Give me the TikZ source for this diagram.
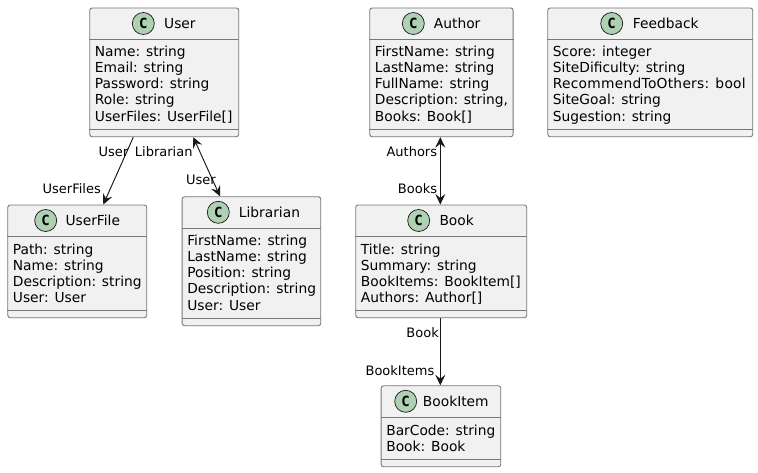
\documentclass[tikz,border=0pt]{standalone}
\usepackage{fontspec}
\setmainfont{DejaVu Sans}
\newfontfamily\glyphfont{DejaVu Sans Mono}[BoldFont={DejaVu Sans Mono Bold}]
\usetikzlibrary{arrows.meta,calc}
\definecolor{boxfill}{HTML}{F1F1F1}
\definecolor{boxline}{HTML}{777777}
\definecolor{spot}{HTML}{ADD1B2}
\definecolor{ink}{HTML}{181818}
\tikzset{
  x=1pt,y=-1pt,
  classbox/.style={draw=boxline,fill=boxfill,line width=0.9pt,rounded corners=2.5pt,anchor=north west,inner sep=0pt},
  divider/.style={draw=boxline,line width=0.9pt},
  spotc/.style={circle,draw=ink,fill=spot,line width=0.7pt,minimum size=22pt,inner sep=0pt,font=\glyphfont\bfseries\fontsize{14}{14}\selectfont,text=black},
  titletext/.style={anchor=base west,inner sep=0pt,font=\fontsize{13.8}{14}\selectfont,text=black},
  membertext/.style={anchor=north west,inner sep=0pt,align=left,font=\fontsize{13.8}{16.2}\selectfont,text=black},
  rolelabel/.style={anchor=base east,inner sep=0pt,font=\fontsize{13}{13}\selectfont,text=black},
  assoc/.style={draw=ink,line width=0.95pt,-{Stealth[length=10.5pt,width=10pt,inset=4pt]}},
  assocboth/.style={draw=ink,line width=0.95pt,{Stealth[length=10.5pt,width=10pt,inset=4pt]}-{Stealth[length=10.5pt,width=10pt,inset=4pt]}},
}
% #1 name, #2 x1, #3 y1, #4 x2, #5 y2
\newcommand{\umlbox}[5]{%
  \pgfmathsetmacro{\boxw}{#4-#2}\pgfmathsetmacro{\boxh}{#5-#3}%
  \node[classbox,minimum width=\boxw pt,minimum height=\boxh pt] (#1) at (#2,#3) {};
  \draw[divider] ($(#1.north west)+(0,32)$) -- ($(#1.north east)+(0,32)$);
  \draw[divider] ($(#1.south west)+(0,-8)$) -- ($(#1.south east)+(0,-8)$);
}
% #1 name, #2 spot x, #3 title x, #4 title
\newcommand{\umlhead}[4]{%
  \node[spotc] (#1spot) at ($(#1.north west)+(0,16)-(#1.north west |- 0,0)+(#2,0)$) {C};
  \node[titletext] (#1title) at ($(#1.north west)+(0,20.7)-(#1.north west |- 0,0)+(#3,0)$) {#4};
}
% #1 name, #2 first baseline below the top, #3 lines
\newcommand{\umlmembers}[3]{%
  \pgfmathsetmacro{\memberdrop}{#2-11}%
  \node[membertext] (#1members) at ($(#1.north west)+(5.4,\memberdrop)$) {\rule{0pt}{11pt}#3};
}
\begin{document}
\begin{tikzpicture}
\useasboundingbox (0,0) rectangle (758,472);
\fill[white] (0,0) rectangle (758,472);
\umlbox{User}{89.3}{7.5}{238.3}{136.3}
\umlhead{User}{143.3}{164}{User}
\umlmembers{User}{48.5}{Name: string\\Email: string\\Password: string\\Role: string\\UserFiles: UserFile[]}
\umlbox{UserFile}{7.3}{204.5}{146.3}{317.3}
\umlhead{UserFile}{45.7}{65.3}{UserFile}
\umlmembers{UserFile}{49.5}{Path: string\\Name: string\\Description: string\\User: User}
\umlbox{Librarian}{181.7}{196.3}{320.3}{325.3}
\umlhead{Librarian}{218.3}{238.7}{Librarian}
\umlmembers{Librarian}{48.7}{FirstName: string\\LastName: string\\Position: string\\Description: string\\User: User}
\umlbox{Author}{369.3}{7.5}{512.7}{136.3}
\umlhead{Author}{413.3}{433.7}{Author}
\umlmembers{Author}{48.5}{FirstName: string\\LastName: string\\FullName: string\\Description: string,\\Books: Book[]}
\umlbox{Feedback}{547.3}{7.5}{752.3}{136.3}
\umlhead{Feedback}{611.7}{632.7}{Feedback}
\umlmembers{Feedback}{48.5}{Score: integer\\SiteDificulty: string\\{\addfontfeatures{LetterSpace=1.9}RecommendToOthers: bool}\\SiteGoal: string\\Sugestion: string}
\umlbox{Book}{355.3}{204.5}{526.3}{317.3}
\umlhead{Book}{418.7}{439.3}{Book}
\umlmembers{Book}{49.5}{Title: string\\Summary: string\\BookItems: BookItem[]\\Authors: Author[]}
\umlbox{BookItem}{380.7}{385.3}{500.3}{466.3}
\umlhead{BookItem}{405.7}{422.7}{BookItem}
\umlmembers{BookItem}{49.7}{BarCode: string\\Book: Book}

\draw[assoc] ($(User.south west)+(44,0)$) -- ($(UserFile.north west)+(96,0)$);
\draw[assocboth] ($(User.south west)+(104,0)$) -- ($(Librarian.north west)+(38.3,0)$);
\draw[assocboth] ($(Author.south west)+(71,0)$) -- ($(Book.north west)+(85,0)$);
\draw[assoc] ($(Book.south west)+(85,0)$) -- ($(BookItem.north west)+(59.6,0)$);

\node[rolelabel] (l1) at (128.5,156.7) {User};
\node[rolelabel] (l2) at (101,193.3) {UserFiles};
\node[rolelabel] (l3) at (192.7,156.7) {Librarian};
\node[rolelabel] (l4) at (216,184.3) {User};
\node[rolelabel] (l5) at (437.3,156.7) {Authors};
\node[rolelabel] (l6) at (437.3,193.3) {Books};
\node[rolelabel] (l7) at (439,337.7) {Book};
\node[rolelabel] (l8) at (434.5,375) {BookItems};
\end{tikzpicture}
\end{document}
